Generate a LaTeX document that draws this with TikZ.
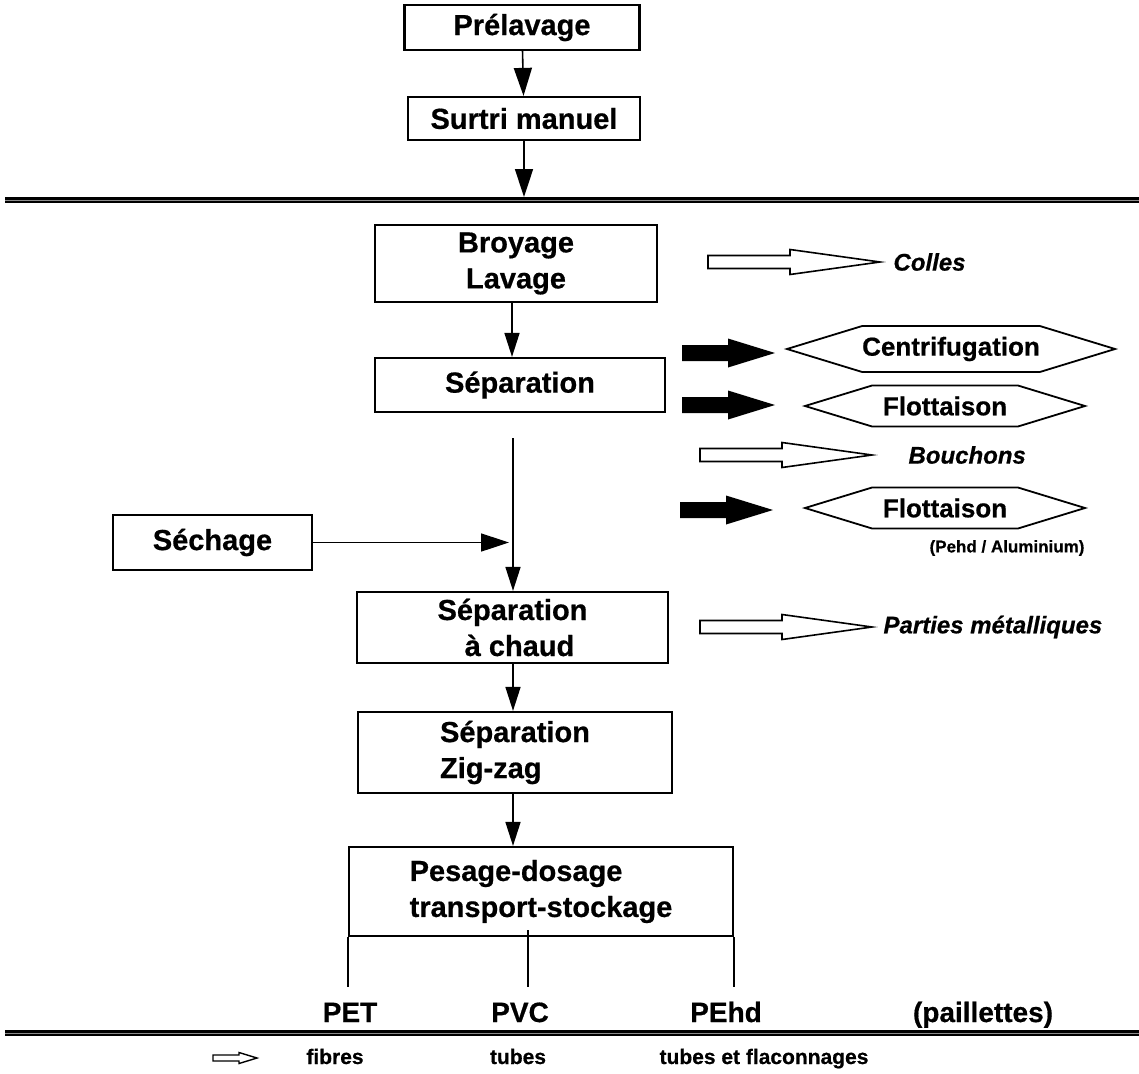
\documentclass[tikz,border=0pt]{standalone}
\usepackage{fontspec}
\setmainfont{Liberation Sans}[BoldFeatures={FakeBold=0.6},BoldItalicFeatures={FakeBold=0.6}]
\usetikzlibrary{positioning,arrows.meta,shapes.symbols}

\tikzset{
  pics/openarrow/.style={code={
    \draw[line width=1.6pt, fill=white] (0,-6.5) -- (82,-6.5) -- (82,-12.5) -- (172,0)
      -- (82,12.5) -- (82,6.5) -- (0,6.5) -- cycle;}},
  pics/fullarrow/.style={code={
    \fill (0,-8) -- (46,-8) -- (46,-14.5) -- (93,0) -- (46,14.5) -- (46,8) -- (0,8) -- cycle;}},
  pics/tinyarrow/.style={code={
    \draw[line width=1.4pt, fill=white] (0,-3) -- (26,-3) -- (26,-5.5) -- (44,0)
      -- (26,5.5) -- (26,3) -- (0,3) -- cycle;}}
}

\begin{document}
\begin{tikzpicture}[x=1pt, y=-1pt,
box/.style={draw, line width=2.2pt, align=center, inner sep=0pt, font=\fontsize{29}{36}\selectfont\bfseries},
hexa/.style={draw, line width=1.8pt, shape=signal, signal to=west and east, signal pointer angle=34,
  inner sep=0pt, font=\fontsize{26}{30}\selectfont\bfseries},
flow/.style={-{Triangle[length=24pt,width=15pt]}, line width=1.6pt},
bigflow/.style={-{Triangle[length=28pt,width=18pt]}, line width=1.6pt},
outlbl/.style={anchor=west, font=\fontsize{24}{28}\selectfont\bfseries\itshape},
prodlbl/.style={anchor=base, font=\fontsize{28}{32}\selectfont\bfseries},
uselbl/.style={anchor=base, font=\fontsize{21}{25}\selectfont\bfseries},
sepline/.style={double=black!45, double distance=1pt, line width=2.6pt}
]
\useasboundingbox (0,0) rectangle (1139,1073);

% separation lines
\coordinate (topw) at (5,200);
\coordinate (tope) at (1139,200);
\coordinate (botw) at (5,1033);
\coordinate (bote) at (1139,1033);
\draw[sepline] (topw) -- (tope);
\draw[sepline] (botw) -- (bote);

% main chain
\node[box, minimum width=235pt, minimum height=45pt] (prel) at (522,27.5) {Prélavage};
\node[box, minimum width=232pt, minimum height=43pt] (surtri) at (524,118.5) {Surtri manuel};
\node[box, minimum width=282pt, minimum height=77pt] (broy) at (516,263.5) {Broyage\\Lavage};
\node[box, minimum width=290pt, minimum height=54pt] (sep) at (520,385) {Séparation};
\node[box, minimum width=199pt, minimum height=55pt] (sech) at (212.5,542.5) {Séchage};
\node[box, minimum width=311pt, minimum height=71pt] (sepch) at (512.5,627.5) {Séparation\\\hspace*{14pt}à chaud};
\node[box, align=left, minimum width=314pt, minimum height=81pt] (zig) at (515,752.5) {Séparation\\Zig-zag};
\node[box, align=left, minimum width=384pt, minimum height=89pt] (pes) at (541,891.5) {Pesage-dosage\\transport-stockage};

\draw[bigflow] (prel) -- (surtri);
\draw[bigflow, shorten >=3pt] (surtri) -- (surtri |- topw);
\draw[flow] (broy.south -| 512,0) -- (sep.north -| 512,0);
\coordinate (vtop) at (513,438);
\draw[flow] (vtop) -- (vtop |- sepch.north);
\draw[bigflow, shorten >=4pt] (sech) -- (sech -| vtop);
\draw[flow] (sepch.south -| 513,0) -- (zig.north -| 513,0);
\draw[flow] (zig.south -| 513,0) -- (pes.north -| 513,0);

% side treatments
\pic at (708,262) {openarrow};
\node[outlbl] (colles) at (890,262) {Colles};
\pic at (682,353) {fullarrow};
\node[hexa, minimum width=317pt, minimum height=46pt] (centri) at (951,349) {Centrifugation};
\pic at (682,405) {fullarrow};
\node[hexa, minimum width=280pt, minimum height=41pt] (flot) at (945,406) {Flottaison};
\pic at (700,455) {openarrow};
\node[outlbl] (bouch) at (905,455) {Bouchons};
\pic at (680,510) {fullarrow};
\node[hexa, minimum width=280pt, minimum height=41pt] (flotb) at (945,508) {Flottaison};
\node[font=\fontsize{17}{20}\selectfont\bfseries] (alu) at (1007,548) {(Pehd / Aluminium)};
\pic at (700,627) {openarrow};
\node[outlbl] (metal) at (880,627) {Parties métalliques};

% outputs
\coordinate (stub) at (0,987);
\coordinate (pvctop) at (528,930);
\draw[line width=1.6pt] (pes.south west) -- (pes.south west |- stub);
\draw[line width=1.6pt] (pvctop) -- (pvctop |- stub);
\draw[line width=1.6pt] (pes.south east) -- (pes.south east |- stub);
\node[prodlbl] (pet) at (350,1022) {PET};
\node[prodlbl] (pvc) at (520,1022) {PVC};
\node[prodlbl] (pehd) at (726,1022) {PEhd};
\node[prodlbl] (flakes) at (983,1022) {(paillettes)};

\pic at (213,1058) {tinyarrow};
\node[uselbl] (fib) at (335,1064) {fibres};
\node[uselbl] (tub) at (518,1064) {tubes};
\node[uselbl] (tubfl) at (764,1064) {tubes et flaconnages};
\end{tikzpicture}
\end{document}
